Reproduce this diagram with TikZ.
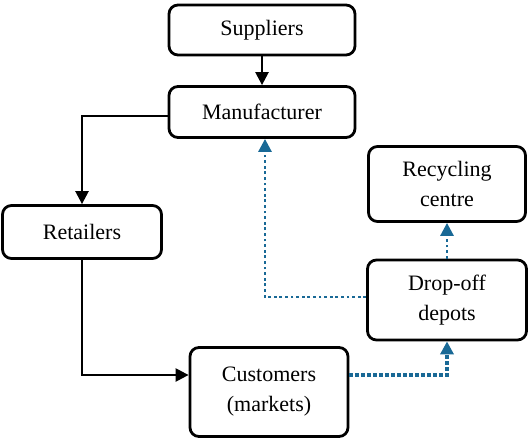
\documentclass[tikz,border=0pt]{standalone}
\usepackage{fontspec}
\setmainfont{Liberation Serif}
\usetikzlibrary{arrows.meta, positioning}
\definecolor{flowblue}{RGB}{25,105,150}
\tikzstyle{arrow} = [line width=1.2pt,-{Triangle[length=6.5pt,width=6.5pt]}]
\tikzstyle{backflow} = [line width=1.4pt, flowblue, dash pattern=on 1.4pt off 1.4pt, -{Triangle[length=6.5pt,width=6.5pt]}]
\tikzstyle{chain} = [
rectangle, rounded corners=4.5pt, line width=1.4pt,
align=center, draw=black, fill=white, font=\fontsize{11}{15}\selectfont
]

\begin{document}
\begin{tikzpicture}[node distance=41pt]
	\useasboundingbox (0pt,0pt) rectangle (264.5pt,-219.5pt);
	% Nodes of the chain
	\node (Suppliers) [chain, minimum width=93pt, minimum height=25pt] at (131pt,-15pt) {Suppliers};
	\node (Manufacturer) [chain, below of=Suppliers, minimum width=93pt, minimum height=25.5pt] {Manufacturer};
	\node (Retailers) [chain, below of=Manufacturer, xshift=-90pt, yshift=-19pt, minimum width=79.5pt, minimum height=26.5pt] {Retailers};
	\node (Customers) [chain, below of=Retailers, xshift=93.5pt, yshift=-39pt, minimum width=79pt, minimum height=44.5pt] {Customers\\(markets)};
	\node (Recycling) [chain, right of=Manufacturer, xshift=51.5pt, yshift=-36pt, minimum width=78.5pt, minimum height=37.5pt] {Recycling\\centre};
	\node (Dropoff) [chain, below of=Recycling, yshift=-17pt, minimum width=79.5pt, minimum height=40pt] {Drop-off\\depots};

	% Forward flow
	\draw [arrow] (Suppliers) -- (Manufacturer);
	\draw [arrow] ([yshift=-2pt]Manufacturer.west) -| (Retailers);
	\draw [arrow] (Retailers) |- ([yshift=8.5pt]Customers.west);

	% Return flow
	\draw [backflow, line width=2pt, dash pattern=on 2pt off 1pt] ([yshift=8.5pt]Customers.east) -| (Dropoff);
	\draw [backflow] ([yshift=1.5pt]Dropoff.west) -| ([xshift=1.5pt]Manufacturer.south);
	\draw [backflow] (Dropoff) -- (Recycling);
\end{tikzpicture}
\end{document}
